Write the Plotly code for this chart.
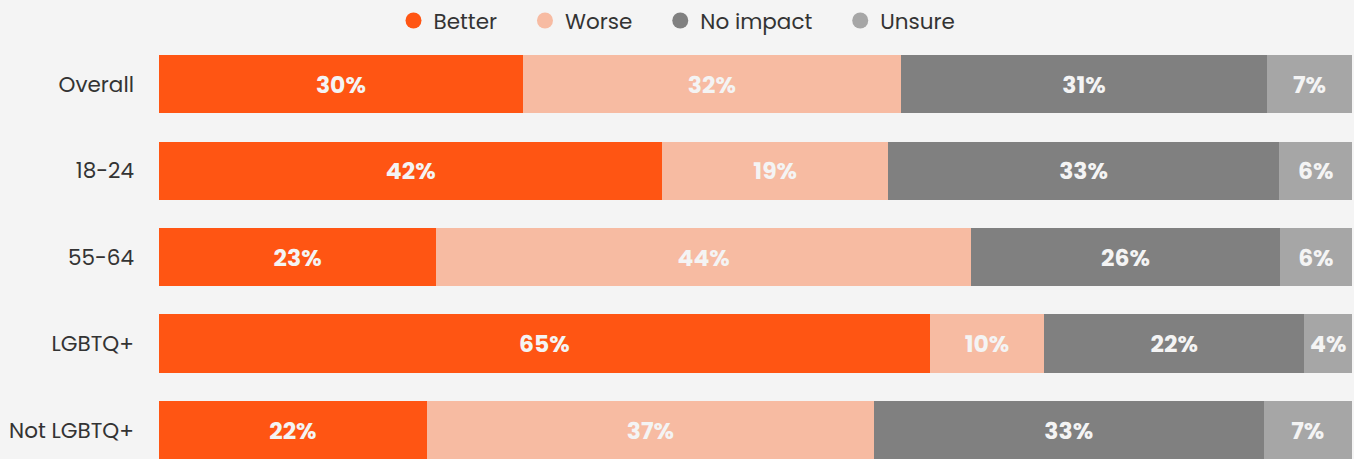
import plotly.graph_objects as go

categories = ["Overall", "18-24", "55-64", "LGBTQ+", "Not LGBTQ+"]
series_names = ["Better", "Worse", "No impact", "Unsure"]
better = [30.4, 42.2, 23.0, 64.6, 22.4]
worse = [31.6, 18.9, 44.4, 9.6, 37.4]
no_impact = [30.6, 32.8, 25.6, 21.8, 32.6]
unsure = [7.1, 6.1, 6.0, 4.0, 7.4]
colors = ["#ff5513", "#f7bba2", "#808080", "#a6a6a6"]

FONT = "Poppins, Open Sans, sans-serif"
BG = "#f4f4f4"

fig = go.Figure()
all_vals = [better, worse, no_impact, unsure]
for i, (name, vals, col) in enumerate(zip(series_names, all_vals, colors)):
    fig.add_trace(go.Bar(
        y=categories, x=vals, orientation="h", name=name,
        marker=dict(color=col, line=dict(width=0)),
        text=[f"{v:.0f}%" for v in vals],
        textposition="inside", insidetextanchor="middle",
        textfont=dict(family=FONT, size=23.5, color="#f4f4f4", weight="bold"),
        width=0.675, showlegend=False, hoverinfo="skip",
    ))
    pad = "\u00a0" * 4 if i < len(series_names) - 1 else ""
    fig.add_trace(go.Scatter(
        x=[None], y=[None], mode="markers", name=name + pad,
        marker=dict(color=col, size=17, symbol="circle"), showlegend=True,
    ))

fig.update_layout(
    barmode="stack", barnorm="percent",
    width=1354, height=459,
    paper_bgcolor=BG, plot_bgcolor=BG,
    margin=dict(l=159, r=2, t=40, b=0),
    font=dict(family=FONT, color="#333333", size=21),
    legend=dict(orientation="h", traceorder="normal",
                xref="container", x=0.5, xanchor="center",
                yref="container", y=1.0, yanchor="top",
                font=dict(size=21.5, color="#333333"), bgcolor="rgba(0,0,0,0)"),
    xaxis=dict(range=[0, 100], visible=False, fixedrange=True),
    yaxis=dict(categoryorder="array", categoryarray=categories,
               range=[4.334, -0.5], showgrid=False, zeroline=False,
               showline=False, ticks="", ticklabelstandoff=24,
               tickfont=dict(size=21.5, color="#333333")),
    uniformtext=dict(mode="show", minsize=10),
)

fig.write_html("out.html", config={"displayModeBar": False},
               post_script="document.body.style.margin='0';document.body.style.background='#f4f4f4';")
